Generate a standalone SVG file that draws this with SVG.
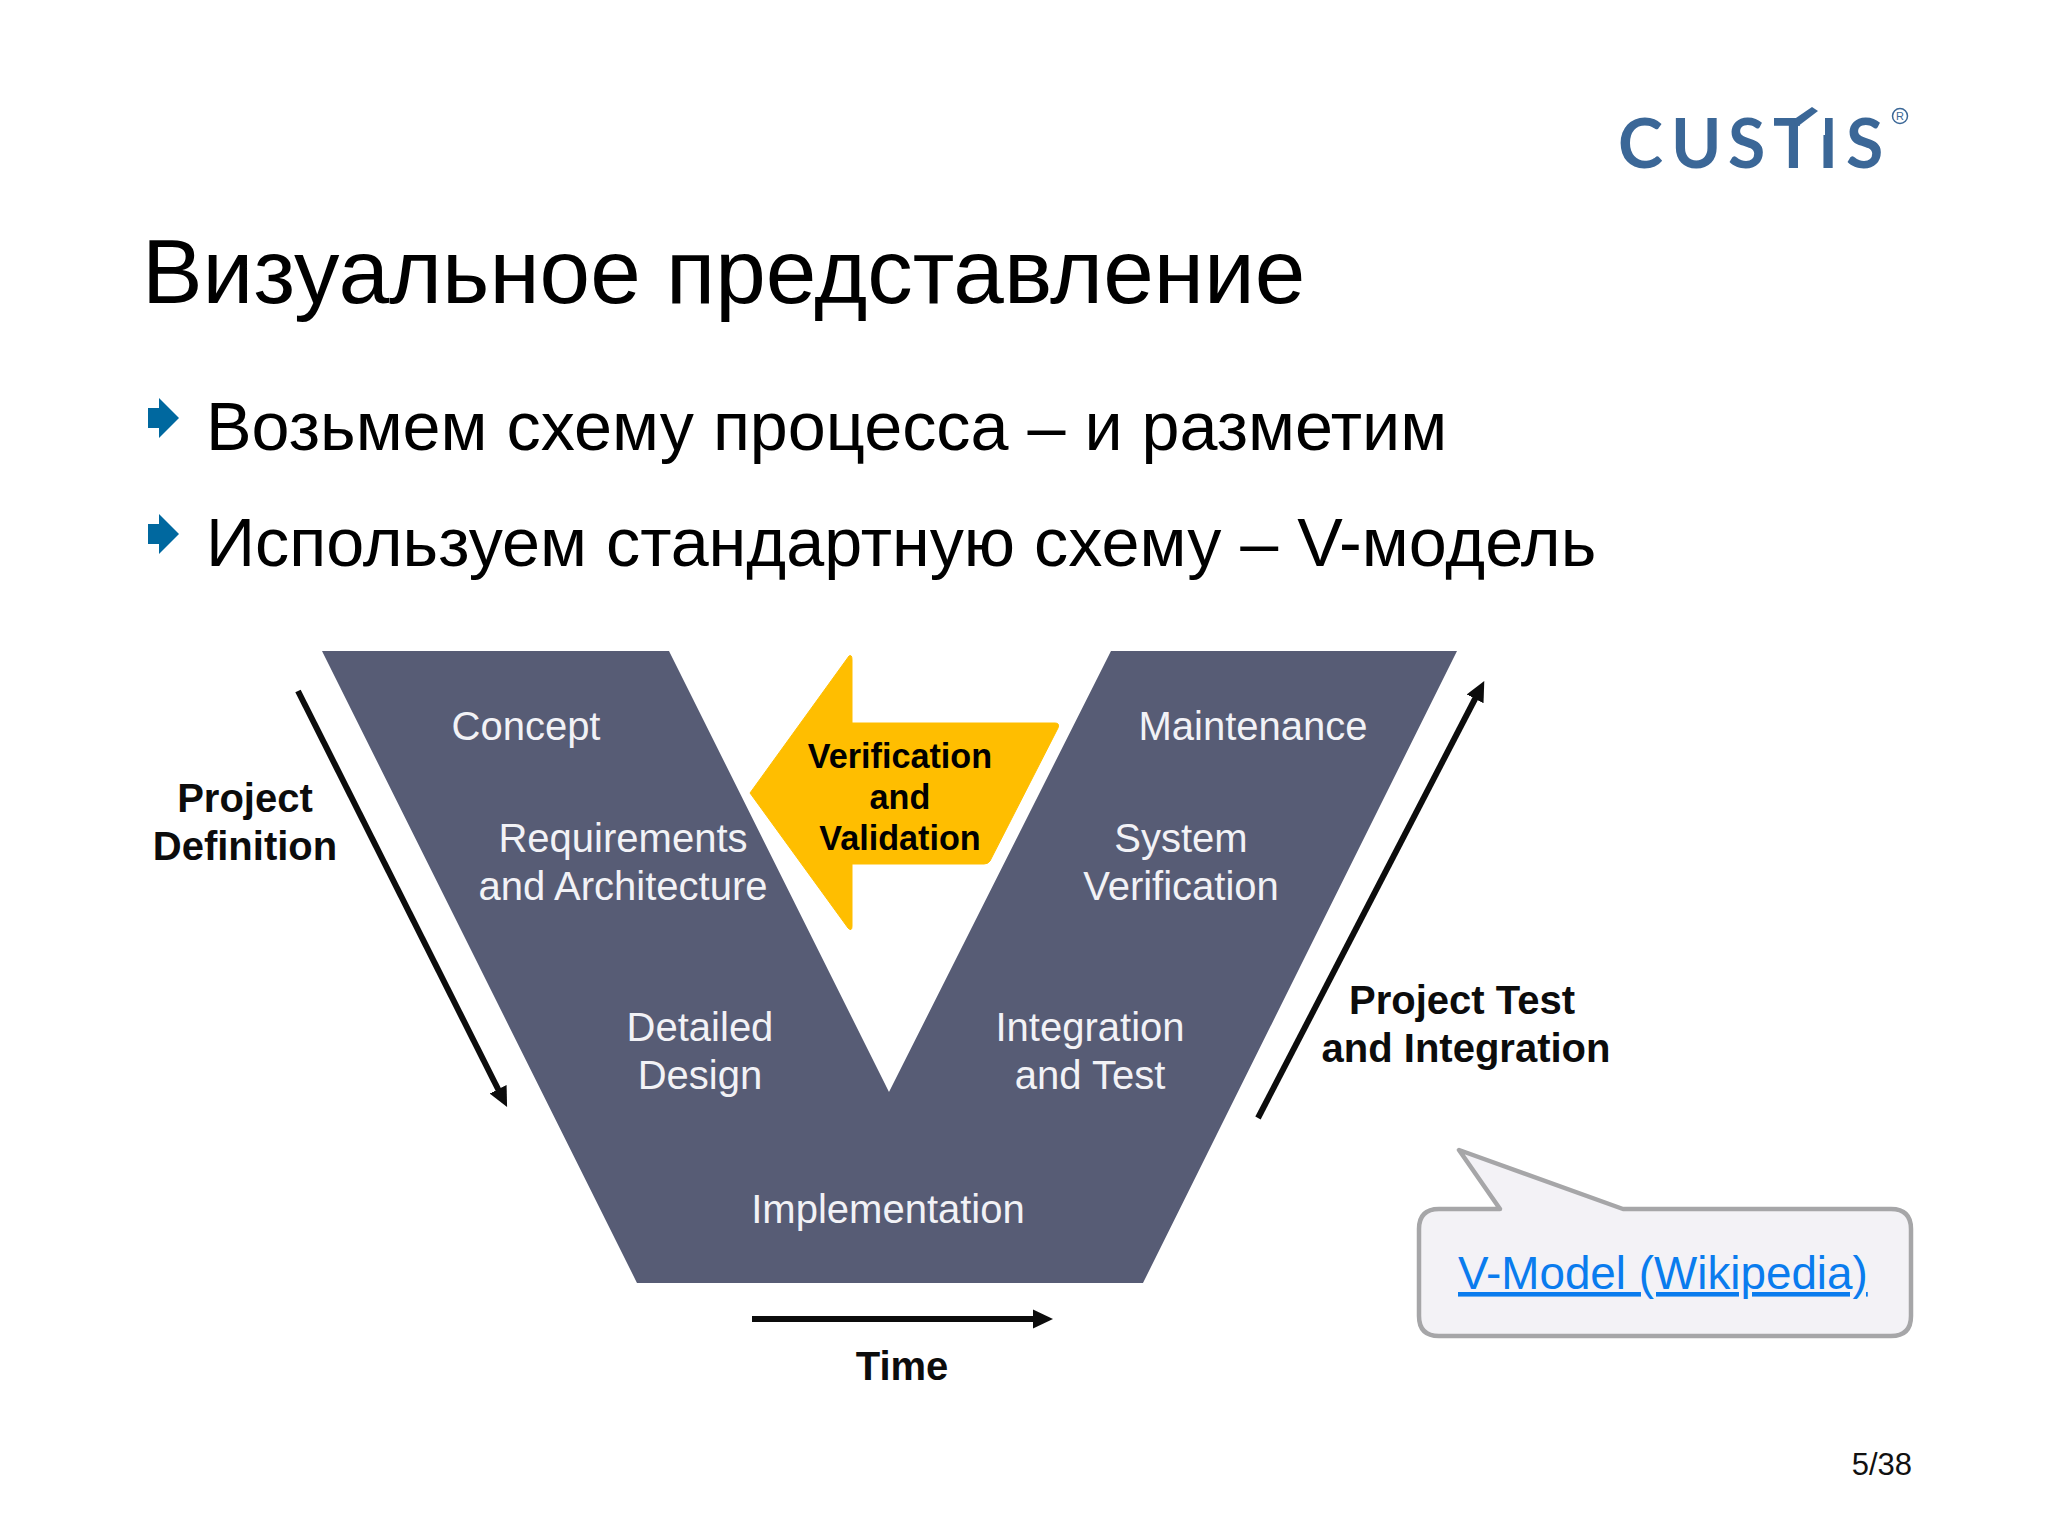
<svg xmlns="http://www.w3.org/2000/svg" width="2048" height="1536" viewBox="0 0 2048 1536">
<style>
text{font-family:"Liberation Sans",Arial,sans-serif}
.t{fill:#000}
.b{font-size:68.3px;fill:#000}
.l{font-size:40px;fill:#f2f2f6;text-anchor:middle}
.k{font-size:40px;font-weight:bold;fill:#0c0c0c;text-anchor:middle}
.y{font-size:34.2px;font-weight:bold;fill:#000;text-anchor:middle}
.c{stroke:#0c0c0c;stroke-width:6;fill:none;marker-end:url(#a)}
</style>
<defs>
<marker id="a" markerUnits="userSpaceOnUse" markerWidth="22" markerHeight="22" viewBox="0 0 22 22" refX="2" refY="11" orient="auto"><path d="M0 1.5L20 11L0 20.5z" fill="#0c0c0c"/></marker>
<path id="bu" d="M148 -10H159V-20L179 0L159 20V10H148z" fill="#00689f"/>
<clipPath id="lc"><path clip-rule="evenodd" d="M1600 90H1900V190H1600zM1800 100H1825V135H1800z"/></clipPath>
</defs>
<rect width="2048" height="1536" fill="#fff"/>
<g id="logo">
<text x="1618 1671 1728 1773 1818 1846" y="168" font-size="68" clip-path="url(#lc)" style="font-family:Lato,sans-serif;font-weight:700" fill="#3b6797">CUSTIS</text>
<path d="M1793 120L1812 107L1818 111L1797 127z" fill="#3b6797"/>
<circle cx="1900" cy="116" r="7.5" fill="none" stroke="#3b6797" stroke-width="1.5"/>
<text x="1900" y="120" font-size="11" text-anchor="middle" fill="#3b6797">R</text>
</g>
<text id="title" x="142" y="303" font-size="90.9" class="t">Визуальное представление</text>
<g id="bullets">
<use href="#bu" y="418"/><text x="206" y="450" class="b">Возьмем схему процесса – и разметим</text>
<use href="#bu" y="534"/><text x="206" y="566" class="b">Используем стандартную схему – V-модель</text>
</g>
<g id="v-shape">
<path d="M322 651H669L889 1092L1111 651H1457L1143 1283H637z" fill="#575c75"/>
<text class="l" x="526" y="740">Concept</text>
<text class="l" x="623" y="852">Requirements</text>
<text class="l" x="623" y="900">and Architecture</text>
<text class="l" x="700" y="1041">Detailed</text>
<text class="l" x="700" y="1089">Design</text>
<text class="l" x="888" y="1223">Implementation</text>
<text class="l" x="1253" y="740">Maintenance</text>
<text class="l" x="1181" y="852">System</text>
<text class="l" x="1181" y="900">Verification</text>
<text class="l" x="1090" y="1041">Integration</text>
<text class="l" x="1090" y="1089">and Test</text>
</g>
<g id="vv">
<path d="M750 793L849 656Q852 654 852 660V723H1055Q1060 723 1058 728L990 861Q988 864 984 864H852V926Q852 932 848 928z" fill="#ffbe00" stroke="#ffbe00" stroke-width="1" stroke-linejoin="round"/>
<text class="y" x="900" y="768">Verification</text>
<text class="y" x="900" y="809">and</text>
<text class="y" x="900" y="850">Validation</text>
</g>
<g id="connectors">
<path class="c" d="M298 691L499 1091"/>
<path class="c" d="M1258 1118L1476 697"/>
<path class="c" d="M752 1319H1035"/>
</g>
<text class="k" x="245" y="812">Project</text>
<text class="k" x="245" y="860">Definition</text>
<text class="k" x="1462" y="1014">Project Test</text>
<text class="k" x="1466" y="1062">and Integration</text>
<text class="k" x="902" y="1380">Time</text>
<g id="callout">
<path d="M1441 1209H1502L1461 1150L1625 1209H1893Q1913 1209 1913 1229V1316Q1913 1336 1893 1336H1441Q1421 1336 1421 1316V1229Q1421 1209 1441 1209z" transform="translate(-2,0)" fill="#f3f2f6" stroke="#a6a6a8" stroke-width="4.5" stroke-linejoin="round"/>
<text x="1458" y="1289" font-size="45.8" fill="#0a7cee" text-decoration="underline">V-Model (Wikipedia)</text>
</g>
<text x="1912" y="1475" font-size="31" text-anchor="end" fill="#111">5/38</text>
</svg>
